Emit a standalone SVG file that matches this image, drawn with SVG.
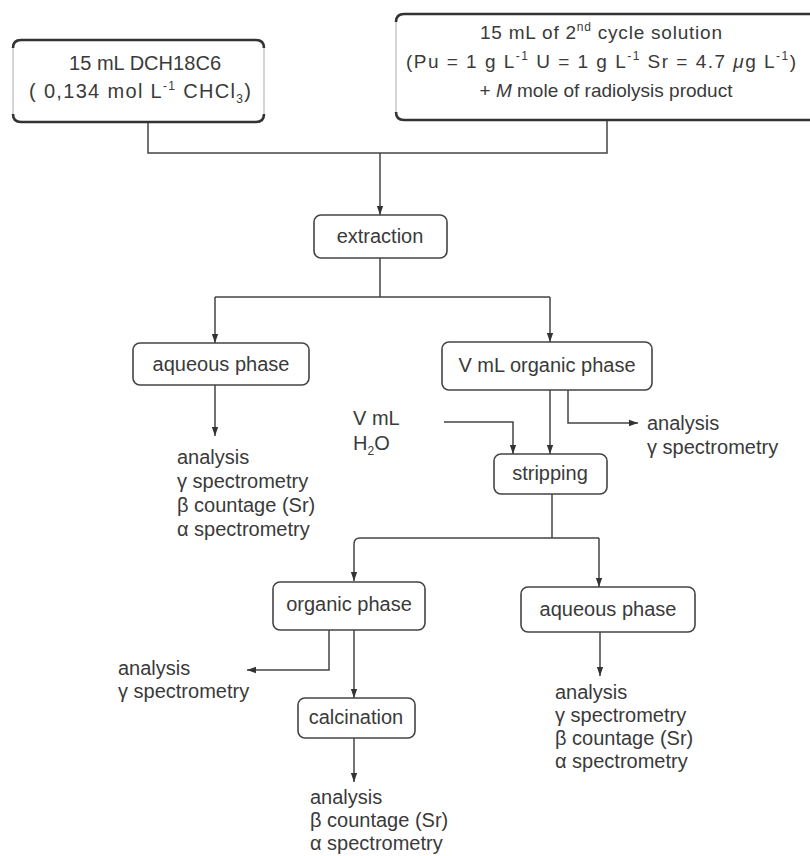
<svg xmlns="http://www.w3.org/2000/svg" width="810" height="856" viewBox="0 0 810 856">
<defs>
<marker id="ah" viewBox="0 0 10 10" refX="10" refY="5" markerWidth="9" markerHeight="9" markerUnits="userSpaceOnUse" orient="auto"><path d="M0,1.5 L10,5 L0,8.5 z" fill="#333"/></marker>
</defs>
<style>
.t{font-family:"Liberation Sans",Arial,sans-serif;font-size:20px;fill:#3a3a3a}
.s{font-size:19px}
.m{text-anchor:middle}
.sup{font-size:12px}
.box{fill:#fff;stroke:#444;stroke-width:1.6}
.tb{fill:#fff;stroke:#aaa;stroke-width:1}
.edge{fill:none;stroke:#333;stroke-width:2.6}
.c{fill:none;stroke:#444;stroke-width:1.5}
.a{marker-end:url(#ah)}
</style>
<rect width="810" height="856" fill="#fff"/>
<g id="connectors">
<path class="c" d="M148,122 V153 H607 V120"/>
<path class="c a" d="M380,153 V215"/>
<path class="c" d="M380,258 V297 M215,297 H550"/>
<path class="c a" d="M215,297 V343"/>
<path class="c a" d="M550,297 V342"/>
<path class="c a" d="M215,385 V436"/>
<path class="c a" d="M550,390 V454"/>
<path class="c a" d="M568,390 V423 H638"/>
<path class="c a" d="M444,422 H513 V454"/>
<path class="c" d="M552,494 V538 M360,538 H599"/>
<path class="c a" d="M360,538 Q354,538 354,544 V581"/>
<path class="c a" d="M599,538 V587"/>
<path class="c a" d="M329,630 V670 H247"/>
<path class="c a" d="M354,630 V698"/>
<path class="c a" d="M354,738 V782"/>
<path class="c a" d="M600,632 V676"/>
</g>
<g id="dch18c6">
<rect class="tb" x="13" y="40" width="251" height="82" rx="8"/>
<path class="edge" d="M13,48 Q13,40 21,40 H256 Q264,40 264,48 M13,114 Q13,122 21,122 H256 Q264,122 264,114"/>
<text class="t m" x="145" y="70" textLength="152" lengthAdjust="spacing">15 mL DCH18C6</text>
<text class="t m" x="140" y="98" textLength="222" lengthAdjust="spacing">( 0,134  mol L<tspan class="sup" dy="-8">-1</tspan><tspan dy="8"> CHCl</tspan><tspan class="sup" dy="5">3</tspan><tspan dy="-5">)</tspan></text>
</g>
<g id="solution">
<rect class="tb" x="396" y="14" width="440" height="106" rx="8"/>
<path class="edge" d="M396,22 Q396,14 404,14 H836 M396,112 Q396,120 404,120 H836"/>
<text class="t s m" x="601" y="39" textLength="242" lengthAdjust="spacing">15 mL of  2<tspan class="sup" dy="-8">nd</tspan><tspan dy="8"> cycle solution</tspan></text>
<text class="t s m" x="601" y="68" textLength="390" lengthAdjust="spacing">(Pu = 1 g L<tspan class="sup" dy="-8">-1</tspan><tspan dy="8">  U = 1 g L</tspan><tspan class="sup" dy="-8">-1</tspan><tspan dy="8"> Sr = 4.7 </tspan><tspan font-style="italic">μ</tspan>g L<tspan class="sup" dy="-8">-1</tspan><tspan dy="8">)</tspan></text>
<text class="t s m" x="606" y="97">+ <tspan font-style="italic">M</tspan> mole of radiolysis product</text>
</g>
<g id="extraction">
<rect class="box" x="314" y="215" width="133" height="43" rx="7"/>
<text class="t m" x="380" y="243">extraction</text>
</g>
<g id="aqueous1">
<rect class="box" x="133" y="343" width="176" height="42" rx="7"/>
<text class="t m" x="221" y="371">aqueous phase</text>
</g>
<g id="organic1">
<rect class="box" x="442" y="342" width="210" height="48" rx="7"/>
<text class="t m" x="547" y="372">V mL organic phase</text>
</g>
<g id="stripping">
<rect class="box" x="494" y="454" width="113" height="40" rx="7"/>
<text class="t m" x="550" y="480">stripping</text>
</g>
<g id="organic2">
<rect class="box" x="273" y="582" width="152" height="48" rx="7"/>
<text class="t m" x="349" y="611">organic phase</text>
</g>
<g id="aqueous2">
<rect class="box" x="521" y="587" width="174" height="45" rx="7"/>
<text class="t m" x="608" y="616">aqueous phase</text>
</g>
<g id="calcination">
<rect class="box" x="298" y="698" width="117" height="40" rx="7"/>
<text class="t m" x="356" y="724">calcination</text>
</g>
<g id="water">
<text class="t" x="353" y="425">V mL</text>
<text class="t" x="353" y="450">H<tspan class="sup" dy="5">2</tspan><tspan dy="-5">O</tspan></text>
</g>
<g id="analysis1">
<text class="t" x="177" y="464">analysis</text>
<text class="t" x="177" y="488">γ spectrometry</text>
<text class="t" x="177" y="512">β countage (Sr)</text>
<text class="t" x="177" y="536">α spectrometry</text>
</g>
<g id="analysis2">
<text class="t" x="647" y="430">analysis</text>
<text class="t" x="647" y="454">γ spectrometry</text>
</g>
<g id="analysis3">
<text class="t" x="118" y="675">analysis</text>
<text class="t" x="118" y="698">γ spectrometry</text>
</g>
<g id="analysis4">
<text class="t" x="555" y="699">analysis</text>
<text class="t" x="555" y="722">γ spectrometry</text>
<text class="t" x="555" y="745">β countage (Sr)</text>
<text class="t" x="555" y="768">α spectrometry</text>
</g>
<g id="analysis5">
<text class="t" x="310" y="804">analysis</text>
<text class="t" x="310" y="827">β countage (Sr)</text>
<text class="t" x="310" y="850">α spectrometry</text>
</g>
</svg>
